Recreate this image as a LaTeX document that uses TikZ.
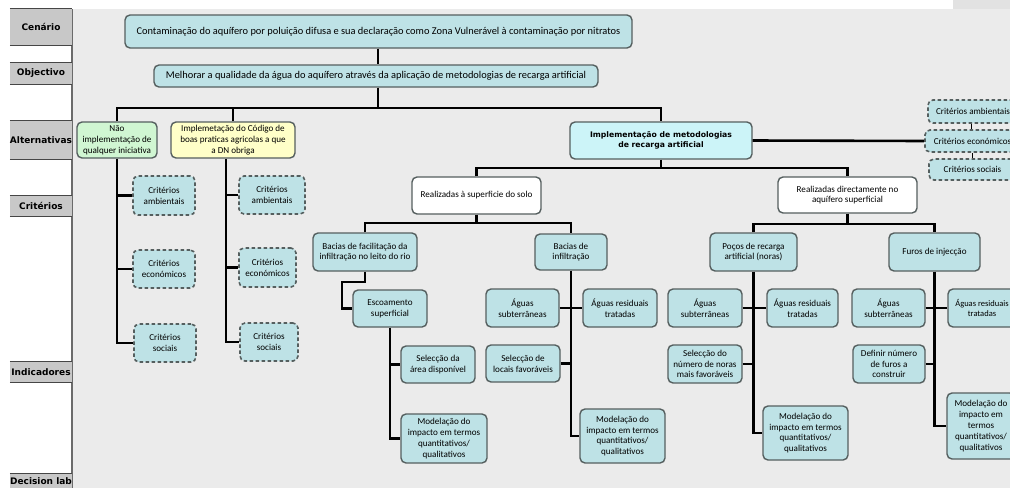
\documentclass[tikz,border=0pt]{standalone}
\usepackage{fontspec}
\setmainfont{Carlito}
\newfontfamily\labelfont{DejaVu Sans}
\definecolor{bgc}{RGB}{235,235,235}
\definecolor{labc}{RGB}{200,200,200}
\definecolor{labline}{RGB}{70,70,70}
\definecolor{bordc}{RGB}{85,95,95}
\definecolor{boxc}{RGB}{190,226,230}
\definecolor{impc}{RGB}{204,244,248}
\definecolor{naoc}{RGB}{208,246,210}
\definecolor{codc}{RGB}{255,255,200}
\definecolor{tabc}{RGB}{226,226,226}
\tikzset{
  sz/.style 2 args={minimum width=#1, minimum height=#2},
  box/.style={draw=bordc, fill=boxc, rounded corners=5pt, line width=1.4pt,
    inner sep=1pt, align=center, font=\fontsize{9.1}{10.8}\selectfont},
  bigbox/.style={box, font=\fontsize{10.4}{12}\selectfont},
  dbox/.style={box, dash pattern=on 3.5pt off 2.5pt, line width=1.6pt},
  wbox/.style={box, fill=white},
  lab/.style={fill=labc, minimum width=62pt, inner sep=0pt,
    font=\labelfont\bfseries\fontsize{9}{11}\selectfont},
  labedge/.style={draw=labline, line width=1.3pt},
  link/.style={draw=black, line width=2.6pt},
  thinlink/.style={draw=black, line width=0.8pt},
}
\begin{document}
\begin{tikzpicture}[x=1pt,y=-1pt]
\useasboundingbox (0,0) rectangle (1010,488);
\clip (0,0) rectangle (1010,488);
% page, working area and tab
\fill[white] (0,0) rectangle (1010,488);
\fill[bgc] (72,9) rectangle (1010,488);
\fill[tabc] (953,0) rectangle (1010,9);
\draw[line width=1.2pt, labline!80] (72,9) -- (72,488);

% row labels
\node[lab, minimum height=36pt] (lcen) at (41,27) {Cenário};
\node[lab, minimum height=21pt] (lobj) at (41,73.5) {Objectivo};
\node[lab, minimum height=38pt] (lalt) at (41,140) {Alternativas};
\node[lab, minimum height=20pt] (lcri) at (41,206) {Critérios};
\node[lab, minimum height=20pt] (lind) at (41,372) {Indicadores};
\node[lab, minimum height=14pt] (ldec) at (41,481) {Decision lab};
\foreach \n in {lcen,lobj,lalt,lcri,lind}{
  \draw[labedge] (\n.north west) -- (\n.north east);
  \draw[labedge] (\n.south west) -- (\n.south east);
}
\draw[labedge] (ldec.north west) -- (ldec.north east);

% scenario and objective
\node[bigbox, sz={507pt}{33pt}] (cen) at (378.5,31.5) {Contaminação do aquífero por poluição difusa e sua declaração como Zona Vulnerável à contaminação por nitratos};
\node[bigbox, sz={444pt}{22pt}] (obj) at (376,76) {Melhorar a qualidade da água do aquífero através da aplicação de metodologias de recarga artificial};

% alternatives
\node[box, fill=naoc, sz={80pt}{36pt}] (nao) at (117,140) {Não\\implementação de\\qualquer iniciativa};
\node[box, fill=codc, sz={124pt}{36pt}] (cod) at (233,140) {Implemetação do Código de\\boas praticas agricolas a que\\a DN obriga};
\node[box, fill=impc, sz={182pt}{37pt}, font=\labelfont\bfseries\fontsize{7.7}{10.5}\selectfont] (imp) at (661,140.5) {Implementação de metodologias\\de recarga artificial};

% criteria
\node[dbox, sz={62pt}{39pt}] (namb) at (164,195.5) {Critérios\\ambientais};
\node[dbox, sz={62pt}{38pt}] (necon) at (164,269) {Critérios\\económicos};
\node[dbox, sz={62pt}{38pt}] (nsoc) at (165,343) {Critérios\\sociais};
\node[dbox, sz={66pt}{38pt}] (camb) at (272,195) {Critérios\\ambientais};
\node[dbox, sz={57pt}{39pt}] (cecon) at (267.5,267.5) {Critérios\\económicos};
\node[dbox, sz={58pt}{38pt}] (csoc) at (269,342) {Critérios\\sociais};
\node[dbox, sz={90pt}{23pt}] (ramb) at (973,111.5) {Critérios ambientais};
\node[dbox, sz={95pt}{22pt}] (recon) at (972.5,141) {Critérios económicos};
\node[dbox, sz={87pt}{21pt}] (rsoc) at (972.5,169.5) {Critérios sociais};

% recharge methods
\node[wbox, sz={129pt}{37pt}] (rsup) at (476.5,195.5) {Realizadas à superficie do solo};
\node[wbox, sz={139pt}{36pt}] (rdir) at (847.5,195) {Realizadas directamente no\\aquífero superficial};
\node[box, sz={104pt}{38pt}] (bfac) at (365,252) {Bacias de facilitação da\\infiltração no leito do rio};
\node[box, sz={72pt}{36pt}] (binf) at (571,252) {Bacias de\\infiltração};
\node[box, sz={87pt}{38pt}] (poc) at (753.5,252) {Poços de recarga\\artificial (noras)};
\node[box, sz={91pt}{38pt}] (fur) at (934.5,252) {Furos de injecção};

% indicators
\node[box, sz={74pt}{37pt}] (esc) at (390,308.5) {Escoamento\\superficial};
\node[box, sz={73pt}{38pt}] (bsub) at (522.5,308) {Águas\\subterrâneas};
\node[box, sz={74pt}{38pt}] (bres) at (620,308) {Águas residuais\\tratadas};
\node[box, sz={74pt}{38pt}] (psub) at (705,308) {Águas\\subterrâneas};
\node[box, sz={71pt}{38pt}] (pres) at (802.5,308) {Águas residuais\\tratadas};
\node[box, sz={73pt}{38pt}] (fsub) at (888.5,308) {Águas\\subterrâneas};
\node[box, sz={68pt}{38pt}, font=\fontsize{8.5}{10.8}\selectfont] (fres) at (982,308) {Águas residuais\\tratadas};
\node[box, sz={74pt}{37pt}] (esel) at (438,364.5) {Selecção da\\área disponível};
\node[box, sz={74pt}{37pt}] (bsel) at (523,363.5) {Selecção de\\locais favoráveis};
\node[box, sz={74pt}{38pt}] (psel) at (705,364) {Selecção do\\número de noras\\mais favoráveis};
\node[box, sz={72pt}{38pt}] (fdef) at (889,364) {Definir número\\de furos a\\construir};
\node[box, sz={86pt}{49pt}] (emod) at (444,438.5) {Modelação do\\impacto em termos\\quantitativos/\\qualitativos};
\node[box, sz={85pt}{54pt}] (bmod) at (622.5,436) {Modelação do\\impacto em termos\\quantitativos/\\qualitativos};
\node[box, sz={85pt}{54pt}] (pmod) at (805.5,433) {Modelação do\\impacto em termos\\quantitativos/\\qualitativos};
\node[box, sz={68pt}{66pt}] (fmod) at (981,426) {Modelação do\\impacto em\\termos\\quantitativos/\\qualitativos};

% junction points of the buses
\coordinate (busA) at (378,108);
\coordinate (busB) at (661,168);
\coordinate (busC) at (476.5,223);
\coordinate (busD) at (847.5,224);
\coordinate (elbowA) at (342,282);

% connectors
\draw[link] (cen.south -| busA) -- (obj.north -| busA);
\draw[link] (obj.south -| busA) -- (busA);
\draw[link] (nao.north) |- (busA) -| (imp.north);
\draw[link] (cod.north) -- (cod.north |- busA);
\draw[link] (imp.east) -- (recon.west);
\draw[thinlink] ([xshift=-2pt]ramb.south) -- ([xshift=-2pt]ramb.south |- recon.north);
\draw[thinlink] (recon.south) -- (recon.south |- rsoc.north);

\draw[link] (nao.south) |- (nsoc.west);
\draw[link] (nao.south |- namb.west) -- (namb.west);
\draw[link] (nao.south |- necon.west) -- (necon.west);
\draw[link] ([xshift=-7pt]cod.south) |- (csoc.west);
\draw[link] ([xshift=-7pt]cod.south |- camb.west) -- (camb.west);
\draw[link] ([xshift=-7pt]cod.south |- cecon.west) -- (cecon.west);

\draw[link] (imp.south) -- (busB);
\draw[link] (rsup.north) |- (busB) -| (rdir.north);
\draw[link] (rsup.south) -- (busC);
\draw[link] (bfac.north) |- (busC) -| (binf.north);
\draw[link] (rdir.south) -- (busD);
\draw[link] (poc.north) |- (busD) -| (fur.north);

\draw[link] (bfac.south) |- (elbowA) |- (esc.west);
\draw[link] (esc.south) |- (emod.west);
\draw[link] (esc.south |- esel.west) -- (esel.west);

\draw[link] (binf.south) |- (bmod.west);
\draw[link] (bsub.east) -- (bres.west);
\draw[link] (bsel.east) -- (binf.south |- bsel.east);

\draw[link] (poc.south) |- (pmod.west);
\draw[link] (psub.east) -- (pres.west);
\draw[link] (psel.east) -- (poc.south |- psel.east);

\draw[link] (fur.south) |- (fmod.west);
\draw[link] (fsub.east) -- (fres.west);
\draw[link] (fdef.east) -- (fur.south |- fdef.east);
\end{tikzpicture}
\end{document}
